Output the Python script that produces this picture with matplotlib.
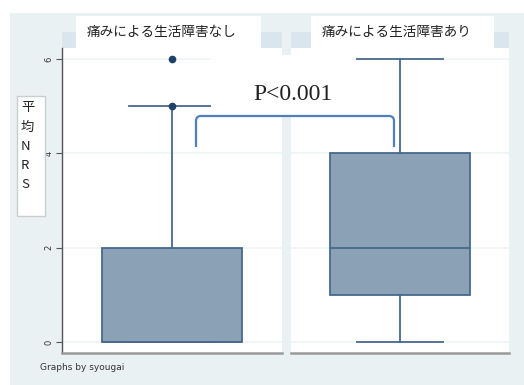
import matplotlib.pyplot as plt
from matplotlib.patches import Rectangle, PathPatch
from matplotlib.path import Path

plt.rcParams['font.family'] = ['Noto Sans CJK JP', 'DejaVu Sans']

# 群ごとの要約統計量（平均NRS）
groups = ['痛みによる生活障害なし', '痛みによる生活障害あり']
q1 = [0, 1]
med = [0, 2]
q3 = [2, 4]
whislo = [0, 0]
whishi = [5, 6]
fliers = [[5, 6], []]
yticks = [0, 2, 4, 6]
p_label = 'P<0.001'
ylabel_chars = ['平', '均', 'N', 'R', 'S']

W, H = 524, 385
fig = plt.figure(figsize=(W / 100, H / 100), dpi=100)
fig.patch.set_facecolor('white')

bg_col = '#eaf1f3'
strip_col = '#d9e6ed'
fill_col = '#8ba1b6'
edge_col = '#48698b'
dot_col = '#1e4168'


def px_axes(x0, y0, x1, y1, **kw):
    # 画素座標（左上原点）で軸を置く
    return fig.add_axes([x0 / W, 1 - y1 / H, (x1 - x0) / W, (y1 - y0) / H], **kw)


# 背景
bg = px_axes(0, 0, W, H)
bg.set_xlim(0, W)
bg.set_ylim(H, 0)
bg.axis('off')
bg.add_patch(Rectangle((10, 13), W - 10, H - 13, color=bg_col, lw=0))
panels = [(62, 282), (291, 509)]
for x0, x1 in panels:
    bg.add_patch(Rectangle((x0, 32), x1 - x0, 16, color=strip_col, lw=0))

ymin, ymax = -0.233, 6.233
for i, (x0, x1) in enumerate(panels):
    ax = px_axes(x0, 48, x1, 353)
    ax.set_facecolor('white')
    stats = [dict(med=med[i], q1=q1[i], q3=q3[i], whislo=whislo[i],
                  whishi=whishi[i], fliers=fliers[i])]
    ax.bxp(stats, positions=[0.5], widths=0.64, capwidths=0.39,
           patch_artist=True, showfliers=True,
           boxprops=dict(facecolor=fill_col, edgecolor=edge_col, lw=1.3),
           medianprops=dict(color=edge_col, lw=1.3),
           whiskerprops=dict(color=edge_col, lw=1.3),
           capprops=dict(color=edge_col, lw=1.3),
           flierprops=dict(marker='o', markersize=4.5, markerfacecolor=dot_col,
                           markeredgecolor=dot_col))
    ax.set_xlim(0, 1)
    ax.set_ylim(ymin, ymax)
    ax.set_xticks([])
    for y in yticks:
        ax.axhline(y, color='#eef4f5', lw=1.2, zorder=0)
    for s in ['top', 'right']:
        ax.spines[s].set_visible(False)
    ax.spines['bottom'].set_color('#9a9a9a')
    ax.spines['bottom'].set_linewidth(1.8)
    if i == 0:
        ax.spines['left'].set_color('#555555')
        ax.spines['left'].set_linewidth(1.0)
        ax.set_yticks(yticks)
        ax.set_yticklabels([str(v) for v in yticks], rotation=90,
                           va='center', fontsize=6, color='#333333',
                           family='DejaVu Sans')
        ax.tick_params(axis='y', length=4, width=0.8, color='#555555', pad=2)
    else:
        ax.spines['left'].set_visible(False)
        ax.set_yticks([])

# 注記用の前面レイヤー
ov = px_axes(0, 0, W, H)
ov.set_xlim(0, W)
ov.set_ylim(H, 0)
ov.axis('off')
ov.patch.set_alpha(0)

title_boxes = [(76, 261, 87), (311, 494, 322)]
for (x0, x1, tx), g in zip(title_boxes, groups):
    ov.add_patch(Rectangle((x0, 16), x1 - x0, 32, color='white', lw=0))
    ov.text(tx, 32, g, ha='left', va='center', fontsize=9.8, color='#222222')

# P値の枠と括弧
ov.add_patch(Rectangle((211, 55), 141, 60, color='white', lw=0))
ov.text(293, 95, p_label, ha='center', va='center', fontsize=17,
        family='Liberation Serif', color='#222222')
r = 5
verts = [(196, 147), (196, 116 + r), (196, 116), (196 + r, 116),
         (394 - r, 116), (394, 116), (394, 116 + r), (394, 147)]
codes = [Path.MOVETO, Path.LINETO, Path.CURVE3, Path.CURVE3,
         Path.LINETO, Path.CURVE3, Path.CURVE3, Path.LINETO]
ov.add_patch(PathPatch(Path(verts, codes), fill=False, edgecolor='#4f7fbd',
                       lw=1.6))

# 縦軸ラベル
ov.add_patch(Rectangle((17, 96), 28, 120, facecolor='white',
                       edgecolor='#c8cdd0', lw=1))
for k, ch in enumerate(ylabel_chars):
    ov.text(21, 108 + k * 19.2, ch, ha='left', va='center', fontsize=9.5,
            color='#222222')

ov.text(40, 367, 'Graphs by syougai', ha='left', va='center', fontsize=6.5,
        color='#333333', family='DejaVu Sans')

fig.savefig('out.png', dpi=100)
